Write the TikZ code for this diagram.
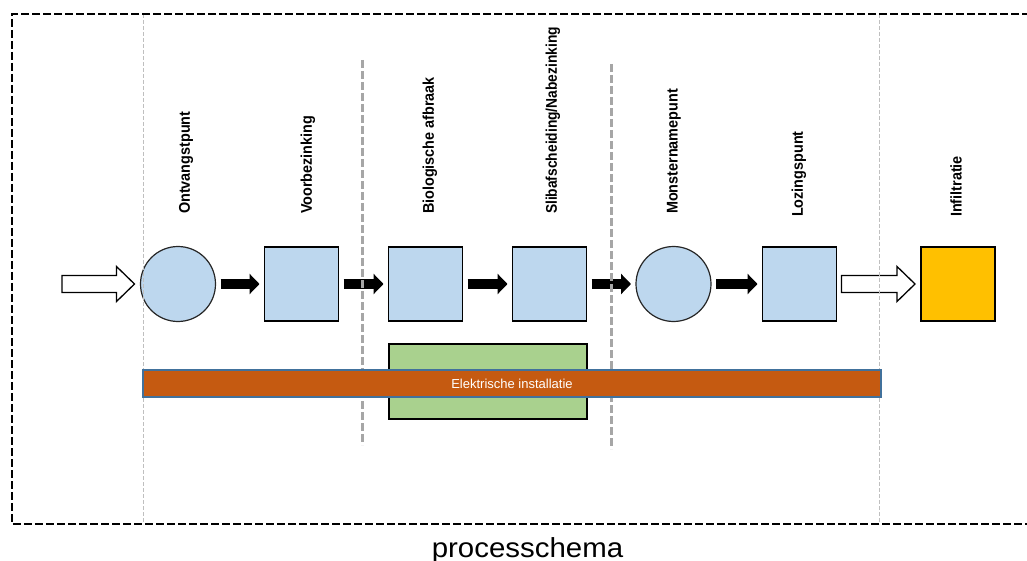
\documentclass[tikz,border=0pt]{standalone}
\usepackage{fontspec}
\setmainfont{Liberation Sans}
\usepackage{graphicx}
\usepackage{tikz}
\usetikzlibrary{arrows.meta,calc}

\definecolor{stagefill}{HTML}{BDD7EE}
\definecolor{infilfill}{HTML}{FFC000}
\definecolor{regelfill}{HTML}{A9D18E}
\definecolor{elekfill}{HTML}{C55A11}
\definecolor{elekline}{HTML}{41719C}
\definecolor{sepgray}{HTML}{A6A6A6}
\definecolor{thingray}{HTML}{BFBFBF}

% hollow arrow between two points
\newcommand{\openarrow}[2]{%
  \draw[line width=1.3pt, fill=white, line join=miter]
    ($(#1)+(5,-8.5)$) -- ($(#2)+(-24,-8.5)$) -- ($(#2)+(-24,-17.5)$) -- ($(#2)+(-6,0)$)
    -- ($(#2)+(-24,17.5)$) -- ($(#2)+(-24,8.5)$) -- ($(#1)+(5,8.5)$) -- cycle;}
% squeezed stage label
\newcommand{\stagetext}[2][0.93]{\scalebox{#1}[1]{#2}}

\begin{document}
\begin{tikzpicture}[x=1pt,y=-1pt]
\path [use as bounding box] (0,0) rectangle (1027,561);
\tikzstyle{every node} = [inner sep=0pt, outer sep=0pt]
\tikzstyle{unit} = [draw=black, line width=1.8pt, fill=stagefill, minimum size=74pt]
\tikzstyle{point} = [circle, draw=black!85, line width=1.2pt, fill=stagefill, minimum size=75pt]
\tikzstyle{stage} = [rotate=90, anchor=west, font=\fontsize{15.5}{17}\selectfont\bfseries]
\tikzstyle{flow} = [line width=10pt, -{Triangle[length=10pt,width=20pt]}, shorten <=5pt, shorten >=5pt]
\tikzstyle{thinsep} = [thingray, line width=0.8pt, dash pattern=on 4pt off 2pt]
\tikzstyle{thicksep} = [sepgray, line width=3pt, dash pattern=on 8pt off 3pt]

% process steps
\coordinate (in) at (57,284);
\node[point] (ontvangst) at (178,284) {};
\node[unit] (voorbez) at (301.5,284) {};
\node[unit] (bio) at (425.5,284) {};
\node[unit] (slib) at (549.5,284) {};
\node[point] (monster) at (673.5,284) {};
\node[unit] (lozing) at (799.5,284) {};
\node[unit, fill=infilfill] (infil) at (958,284) {};

% labels
\node[stage] at (186,214) {\stagetext{Ontvangstpunt}};
\node[stage] at (308,214) {\stagetext{Voorbezinking}};
\node[stage] at (430,214) {\stagetext{Biologische afbraak}};
\node[stage] at (553,214) {\stagetext[0.89]{Slibafscheiding/Nabezinking}};
\node[stage] at (674,214) {\stagetext{Monsternamepunt}};
\node[stage] at (799,217) {\stagetext{Lozingspunt}};
\node[stage] at (956,217) {\stagetext{Infiltratie}};

% flow
\openarrow{in}{ontvangst.west}
\draw[flow] (ontvangst) -- (voorbez);
\draw[flow] (voorbez) -- (bio);
\draw[flow] (bio) -- (slib);
\draw[flow] (slib) -- (monster);
\draw[flow] (monster) -- (lozing);
\openarrow{lozing.east}{infil.west}

% separators
\draw[thinsep] (143,14) -- (143,524);
\draw[thinsep] (879,14) -- (879,524);
\draw[thicksep] (362,60) -- (362,445);
\draw[thicksep] (611,64) -- (611,449);

% installations
\node[draw=black, line width=1.5pt, fill=regelfill, minimum width=198pt, minimum height=75pt] (regel) at (488,381.5) {};
\node[draw=elekline, line width=1.5pt, fill=elekfill, minimum width=738pt, minimum height=27pt,
  text=white, font=\fontsize{13}{15}\selectfont] (elek) at (512,383.5) {Elektrische installatie};

% frame
\draw[line width=2.5pt, dash pattern=on 8pt off 3pt] (1030,14) -- (12,14) -- (12,524) -- (1030,524);
\node[font=\fontsize{27.5}{30}\selectfont, anchor=base] (caption) at (527.5,557) {\scalebox{1.07}[1]{processchema}};
\end{tikzpicture}
\end{document}
